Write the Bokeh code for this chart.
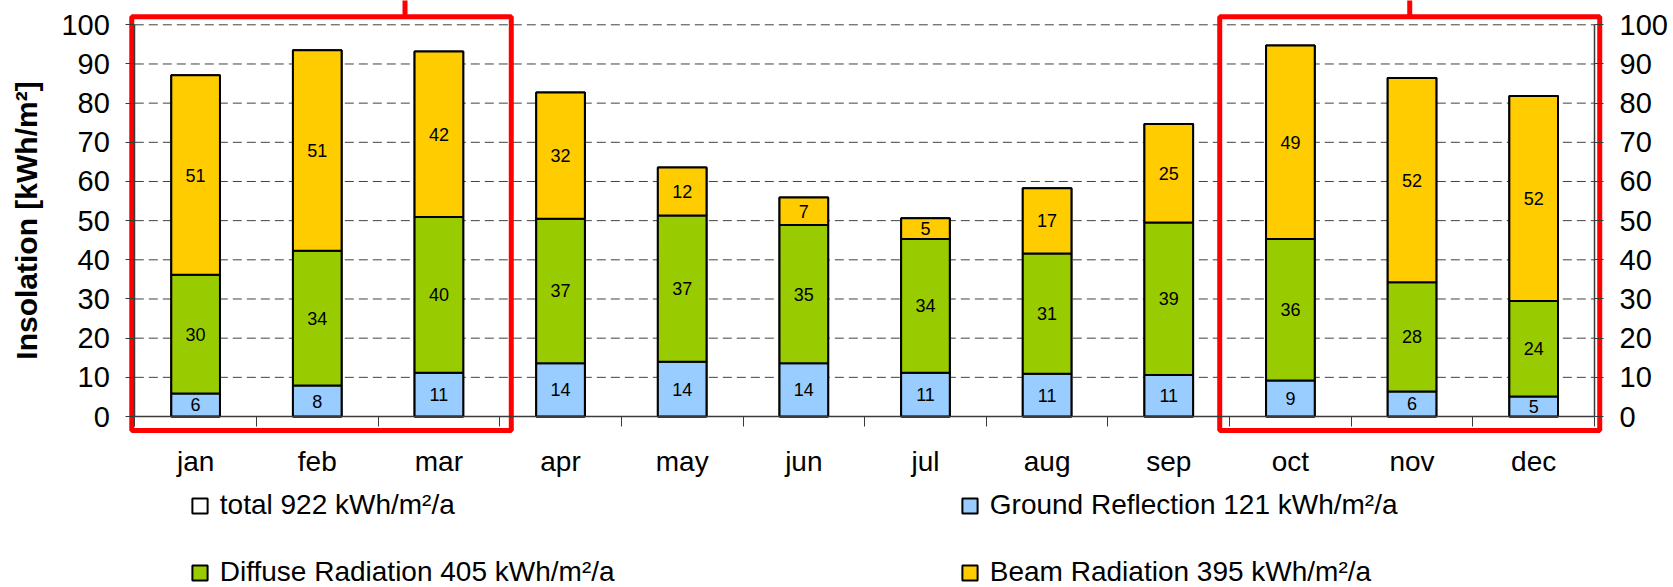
from bokeh.plotting import figure
from bokeh.models import (ColumnDataSource, LinearAxis, FixedTicker, Range1d, Legend, LegendItem)
from bokeh.core.properties import value
from bokeh.embed import file_html
from bokeh.resources import INLINE

# ---------------- data ----------------
months = ["jan", "feb", "mar", "apr", "may", "jun", "jul", "aug", "sep", "oct", "nov", "dec"]
ground = [5.9, 7.9, 11.2, 13.6, 14.0, 13.6, 11.2, 10.9, 10.6, 9.2, 6.4, 5.1]
diffuse = [30.3, 34.4, 39.7, 36.9, 37.3, 35.3, 34.1, 30.7, 38.9, 36.1, 27.9, 24.4]
beam = [50.9, 51.2, 42.3, 32.2, 12.3, 7.0, 5.3, 16.7, 25.2, 49.4, 52.1, 52.3]
annual_total = 922
annual_ground = 121
annual_diffuse = 405
annual_beam = 395
y_ticks = [0, 10, 20, 30, 40, 50, 60, 70, 80, 90, 100]
highlight_groups = [("jan", "mar"), ("oct", "dec")]

FONT = "Liberation Sans"
AXIS_COLOR = "#3a3a3a"
colors = ["#99CCFF", "#99CC00", "#FFCC00"]

xs = [i + 1 for i in range(len(months))]
x_lo, x_hi = 0.5, len(months) + 0.5
y_lo, y_hi = y_ticks[0], y_ticks[-1]
total = [g + d + b for g, d, b in zip(ground, diffuse, beam)]
src = ColumnDataSource(dict(x=xs, ground=ground, diffuse=diffuse, beam=beam, total=total))

W, H = 1673, 587
# plot area (axes box) position on the canvas, in pixels
PL, PR, PT, PB = 134.3, 1594.0, 24.3, 416.0
xpx = (PR - PL) / (x_hi - x_lo)
ypx = (PB - PT) / (y_hi - y_lo)

p = figure(width=W, height=H,
           x_range=Range1d(x_lo - PL / xpx, x_hi + (W - PR) / xpx),
           y_range=Range1d(y_lo - (H - PB) / ypx, y_hi + PT / ypx),
           x_axis_type=None, y_axis_type=None,
           output_backend="svg", toolbar_location=None, min_border=0)
p.outline_line_color = None
p.background_fill_color = "white"
p.border_fill_color = "white"
p.xgrid.visible = False
p.ygrid.visible = False

# dashed horizontal gridlines across the plot area
gy = y_ticks[1:]
p.segment(x0=[x_lo] * len(gy), x1=[x_hi] * len(gy), y0=gy, y1=gy,
          line_color="#404040", line_dash="9 5", line_width=1)

# axes (drawn at fixed positions around the plot area)
def yaxis(with_label, loc):
    ax = LinearAxis(ticker=FixedTicker(ticks=y_ticks), bounds=(y_lo, y_hi), fixed_location=loc,
                    major_tick_out=9, major_tick_in=0,
                    major_tick_line_color=AXIS_COLOR, minor_tick_line_color=None,
                    axis_line_color=AXIS_COLOR, axis_line_width=1.5,
                    major_label_standoff=16,
                    major_label_text_font=FONT, major_label_text_font_size="29px",
                    major_label_text_color="black")
    if with_label:
        ax.axis_label = "Insolation [kWh/m²]"
        ax.axis_label_text_font = FONT
        ax.axis_label_text_font_size = "30px"
        ax.axis_label_text_font_style = "bold"
        ax.axis_label_text_color = "black"
        ax.axis_label_standoff = 15
    return ax

p.add_layout(yaxis(True, x_lo), "left")
p.add_layout(yaxis(False, x_hi), "right")

xb = LinearAxis(ticker=FixedTicker(ticks=xs, minor_ticks=[i + 0.5 for i in range(len(months) + 1)]),
                bounds=(x_lo, x_hi), fixed_location=y_lo,
                major_label_overrides={x: m for x, m in zip(xs, months)},
                major_tick_line_color=None, major_tick_out=0, major_tick_in=0,
                minor_tick_line_color=AXIS_COLOR, minor_tick_out=10, minor_tick_in=0,
                axis_line_color=AXIS_COLOR, axis_line_width=1.5,
                major_label_standoff=19,
                major_label_text_font=FONT, major_label_text_font_size="28px",
                major_label_text_color="black")
p.add_layout(xb, "below")

# bars
BAR_W = 0.4
total_r = p.vbar(x="x", top="total", width=BAR_W, source=src,
                 fill_color="white", line_color="black", line_width=2)
stack = p.vbar_stack(["ground", "diffuse", "beam"], x="x", width=BAR_W, source=src,
                     fill_color=colors, line_color="black", line_width=2)

# segment labels
lx, ly, lt = [], [], []
for i, x in enumerate(xs):
    base = 0.0
    for series in (ground, diffuse, beam):
        v = series[i]
        lx.append(x)
        ly.append(base + v / 2.0)
        lt.append(str(int(round(v))))
        base += v
p.text(x="x", y="y", text="t", source=ColumnDataSource(dict(x=lx, y=ly, t=lt)),
       text_align="center", text_baseline="middle",
       text_font=value(FONT), text_font_size="18px", text_color="black")

# red highlight boxes around the winter months, with a short connector line upward
pads = [(0.025, 0.095, 0.72), (0.081, 0.043, 0.5)]
bl, br, cxs = [], [], []
for (m0, m1), (pl, pr, frac) in zip(highlight_groups, pads):
    left = months.index(m0) + 1 - 0.5 - pl
    right = months.index(m1) + 1 + 0.5 + pr
    bl.append(left)
    br.append(right)
    cxs.append(left + (right - left) * frac)
box_top = y_hi + 8.0 / ypx
box_bottom = y_lo - 14.0 / ypx
p.quad(left=bl, right=br, top=[box_top] * 2, bottom=[box_bottom] * 2,
       fill_color=None, line_color="#FF0000", line_width=5)
p.segment(x0=cxs, x1=cxs, y0=[box_top] * 2, y1=[box_top + 40.0 / ypx] * 2,
          line_color="#FF0000", line_width=5)

# legends
LEG_X = 189.8
GLYPH = 19
ITEM_H = 28
def make_legend(items, center_y):
    lg = Legend(items=items, orientation="horizontal",
                location=(LEG_X, H - center_y - ITEM_H / 2),
                glyph_width=GLYPH, glyph_height=GLYPH, label_standoff=11, label_width=740,
                label_height=ITEM_H,
                spacing=0, padding=0, margin=0,
                border_line_color=None, background_fill_alpha=0,
                label_text_font=FONT, label_text_font_size="28px", label_text_color="black")
    return lg

leg1 = make_legend([LegendItem(label=f"total {annual_total} kWh/m²/a", renderers=[total_r]),
                    LegendItem(label=f"Ground Reflection {annual_ground} kWh/m²/a", renderers=[stack[0]])],
                   507)
leg2 = make_legend([LegendItem(label=f"Diffuse Radiation {annual_diffuse} kWh/m²/a", renderers=[stack[1]]),
                    LegendItem(label=f"Beam Radiation {annual_beam} kWh/m²/a", renderers=[stack[2]])],
                   574)
p.add_layout(leg1, "center")
p.add_layout(leg2, "center")

open("out.html", "w").write(file_html(p, INLINE))
